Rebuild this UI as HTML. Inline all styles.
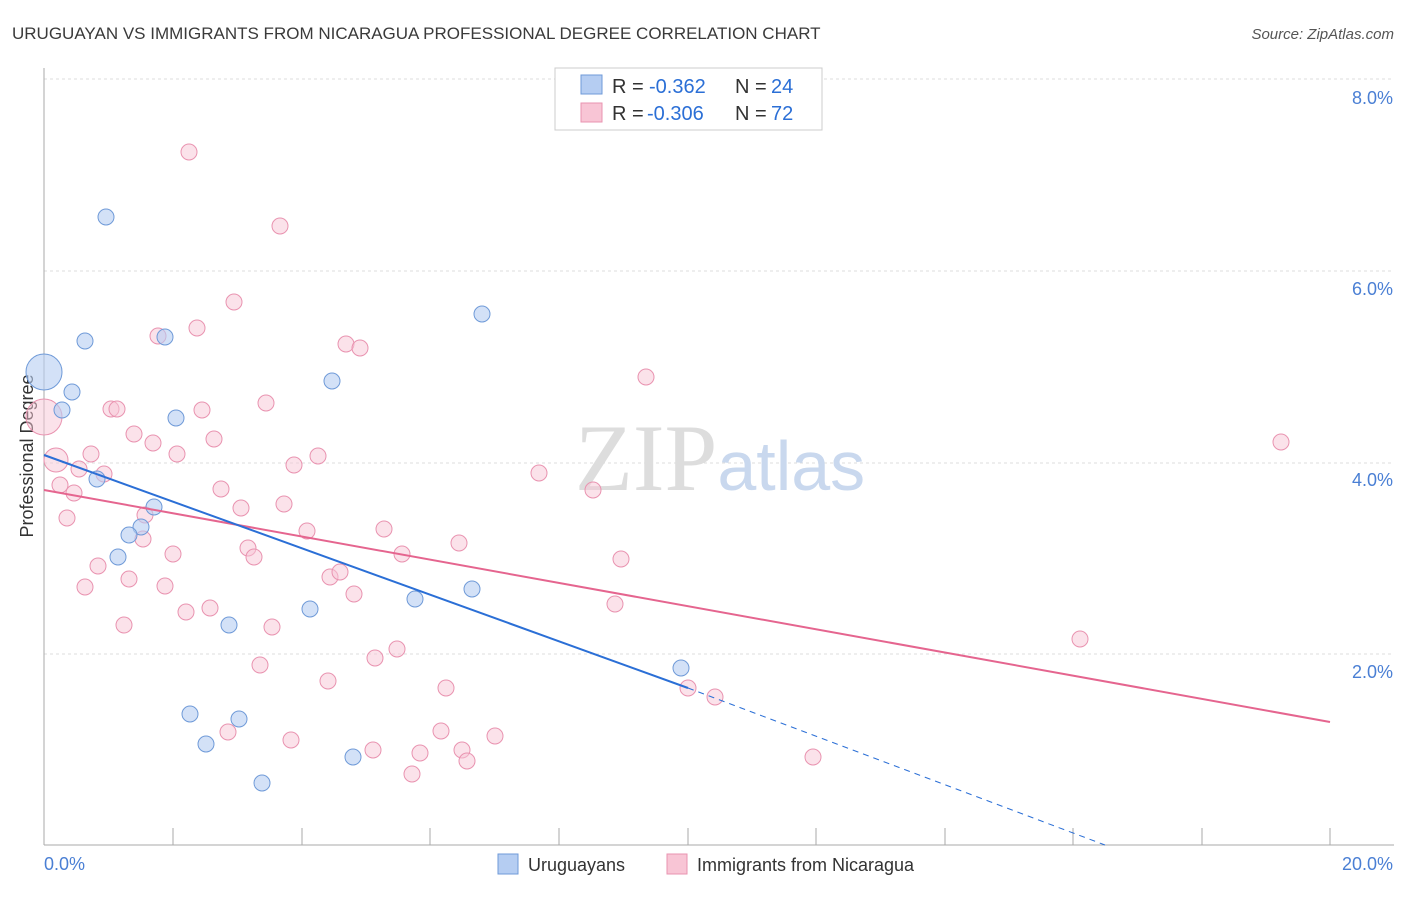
<!DOCTYPE html>
<html><head><style>
body{margin:0;background:#fff;font-family:"Liberation Sans",sans-serif;}
</style></head><body>
<svg width="1406" height="892" xmlns="http://www.w3.org/2000/svg" font-family="Liberation Sans, sans-serif">
<text x="12" y="39" font-size="17" fill="#3a3a3a">URUGUAYAN VS IMMIGRANTS FROM NICARAGUA PROFESSIONAL DEGREE CORRELATION CHART</text>
<text x="1394" y="39" font-size="15" fill="#555" text-anchor="end" font-style="italic">Source: ZipAtlas.com</text>
<g stroke="#ddd" stroke-dasharray="3,3">
<line x1="44" y1="79" x2="1394" y2="79"/><line x1="44" y1="271" x2="1394" y2="271"/>
<line x1="44" y1="463" x2="1394" y2="463"/><line x1="44" y1="654" x2="1394" y2="654"/>
</g>
<line x1="44" y1="68" x2="44" y2="845" stroke="#aaa"/>
<line x1="44" y1="845" x2="1394" y2="845" stroke="#aaa"/>
<g stroke="#aaa">
<line x1="173" y1="828" x2="173" y2="845"/><line x1="302" y1="828" x2="302" y2="845"/><line x1="430" y1="828" x2="430" y2="845"/><line x1="559" y1="828" x2="559" y2="845"/><line x1="688" y1="828" x2="688" y2="845"/><line x1="816" y1="828" x2="816" y2="845"/><line x1="945" y1="828" x2="945" y2="845"/><line x1="1073" y1="828" x2="1073" y2="845"/><line x1="1202" y1="828" x2="1202" y2="845"/><line x1="1330" y1="828" x2="1330" y2="845"/>
</g>
<g font-size="18" fill="#4a7fd4" text-anchor="end">
<text x="1393" y="104">8.0%</text><text x="1393" y="295">6.0%</text><text x="1393" y="486">4.0%</text><text x="1393" y="678">2.0%</text>
</g>
<text x="44" y="870" font-size="18" fill="#4a7fd4">0.0%</text>
<text x="1393" y="870" font-size="18" fill="#4a7fd4" text-anchor="end">20.0%</text>
<text x="28" y="456" font-size="18" fill="#333" text-anchor="middle" dominant-baseline="middle" transform="rotate(-90 28 456)">Professional Degree</text>
<text x="720" y="490" font-size="95" fill="#ddd" text-anchor="middle" font-family="Liberation Serif, serif">ZIP<tspan fill="#c9d8ee" font-family="Liberation Sans, sans-serif" font-size="70">atlas</tspan></text>
<g fill="#f8c5d5" fill-opacity="0.5" stroke="#e993b0" stroke-width="1">
<circle cx="44" cy="417" r="18"/><circle cx="56" cy="460" r="12"/>
<circle cx="189" cy="152" r="8"/><circle cx="280" cy="226" r="8"/><circle cx="234" cy="302" r="8"/><circle cx="197" cy="328" r="8"/><circle cx="158" cy="336" r="8"/><circle cx="346" cy="344" r="8"/><circle cx="360" cy="348" r="8"/><circle cx="646" cy="377" r="8"/><circle cx="266" cy="403" r="8"/><circle cx="111" cy="409" r="8"/><circle cx="117" cy="409" r="8"/><circle cx="202" cy="410" r="8"/><circle cx="134" cy="434" r="8"/><circle cx="153" cy="443" r="8"/><circle cx="214" cy="439" r="8"/><circle cx="177" cy="454" r="8"/><circle cx="91" cy="454" r="8"/><circle cx="318" cy="456" r="8"/><circle cx="294" cy="465" r="8"/><circle cx="79" cy="469" r="8"/><circle cx="104" cy="474" r="8"/><circle cx="60" cy="485" r="8"/><circle cx="74" cy="493" r="8"/><circle cx="221" cy="489" r="8"/><circle cx="539" cy="473" r="8"/><circle cx="593" cy="490" r="8"/><circle cx="1281" cy="442" r="8"/><circle cx="67" cy="518" r="8"/><circle cx="241" cy="508" r="8"/><circle cx="284" cy="504" r="8"/><circle cx="145" cy="515" r="8"/><circle cx="143" cy="539" r="8"/><circle cx="307" cy="531" r="8"/><circle cx="384" cy="529" r="8"/><circle cx="459" cy="543" r="8"/><circle cx="248" cy="548" r="8"/><circle cx="254" cy="557" r="8"/><circle cx="173" cy="554" r="8"/><circle cx="402" cy="554" r="8"/><circle cx="621" cy="559" r="8"/><circle cx="98" cy="566" r="8"/><circle cx="330" cy="577" r="8"/><circle cx="340" cy="572" r="8"/><circle cx="129" cy="579" r="8"/><circle cx="85" cy="587" r="8"/><circle cx="165" cy="586" r="8"/><circle cx="354" cy="594" r="8"/><circle cx="210" cy="608" r="8"/><circle cx="186" cy="612" r="8"/><circle cx="615" cy="604" r="8"/><circle cx="124" cy="625" r="8"/><circle cx="272" cy="627" r="8"/><circle cx="397" cy="649" r="8"/><circle cx="375" cy="658" r="8"/><circle cx="260" cy="665" r="8"/><circle cx="328" cy="681" r="8"/><circle cx="446" cy="688" r="8"/><circle cx="688" cy="688" r="8"/><circle cx="715" cy="697" r="8"/><circle cx="1080" cy="639" r="8"/><circle cx="228" cy="732" r="8"/><circle cx="441" cy="731" r="8"/><circle cx="291" cy="740" r="8"/><circle cx="373" cy="750" r="8"/><circle cx="495" cy="736" r="8"/><circle cx="420" cy="753" r="8"/><circle cx="462" cy="750" r="8"/><circle cx="467" cy="761" r="8"/><circle cx="412" cy="774" r="8"/><circle cx="813" cy="757" r="8"/>
</g>
<g fill="#b5cdf2" fill-opacity="0.6" stroke="#6f9ad8" stroke-width="1">
<circle cx="44" cy="372" r="18"/>
<circle cx="106" cy="217" r="8"/><circle cx="85" cy="341" r="8"/><circle cx="165" cy="337" r="8"/><circle cx="482" cy="314" r="8"/><circle cx="332" cy="381" r="8"/><circle cx="72" cy="392" r="8"/><circle cx="62" cy="410" r="8"/><circle cx="176" cy="418" r="8"/><circle cx="97" cy="479" r="8"/><circle cx="154" cy="507" r="8"/><circle cx="141" cy="527" r="8"/><circle cx="129" cy="535" r="8"/><circle cx="118" cy="557" r="8"/><circle cx="415" cy="599" r="8"/><circle cx="472" cy="589" r="8"/><circle cx="310" cy="609" r="8"/><circle cx="229" cy="625" r="8"/><circle cx="190" cy="714" r="8"/><circle cx="239" cy="719" r="8"/><circle cx="206" cy="744" r="8"/><circle cx="353" cy="757" r="8"/><circle cx="262" cy="783" r="8"/><circle cx="681" cy="668" r="8"/>
</g>
<line x1="44" y1="490" x2="1330" y2="722" stroke="#e5658f" stroke-width="2"/>
<line x1="44" y1="455" x2="688" y2="688" stroke="#2b6fd6" stroke-width="2"/>
<line x1="688" y1="688" x2="1105" y2="845" stroke="#2b6fd6" stroke-width="1" stroke-dasharray="6,5"/>
<rect x="555" y="68" width="267" height="62" fill="#fff" stroke="#ccc"/>
<rect x="581" y="75" width="21" height="19" fill="#b5cdf2" stroke="#6f9ad8"/>
<rect x="581" y="103" width="21" height="19" fill="#f8c5d5" stroke="#e993b0"/>
<g font-size="20" fill="#333">
<text x="612" y="93">R =</text><text x="649" y="93" fill="#2b6fd6">-0.362</text><text x="735" y="93">N =</text><text x="771" y="93" fill="#2b6fd6">24</text>
<text x="612" y="120">R =</text><text x="647" y="120" fill="#2b6fd6">-0.306</text><text x="735" y="120">N =</text><text x="771" y="120" fill="#2b6fd6">72</text>
</g>
<rect x="498" y="854" width="20" height="20" fill="#b5cdf2" stroke="#6f9ad8"/>
<text x="528" y="871" font-size="18" fill="#333">Uruguayans</text>
<rect x="667" y="854" width="20" height="20" fill="#f8c5d5" stroke="#e993b0"/>
<text x="697" y="871" font-size="18" fill="#333">Immigrants from Nicaragua</text>
</svg>
</body></html>
